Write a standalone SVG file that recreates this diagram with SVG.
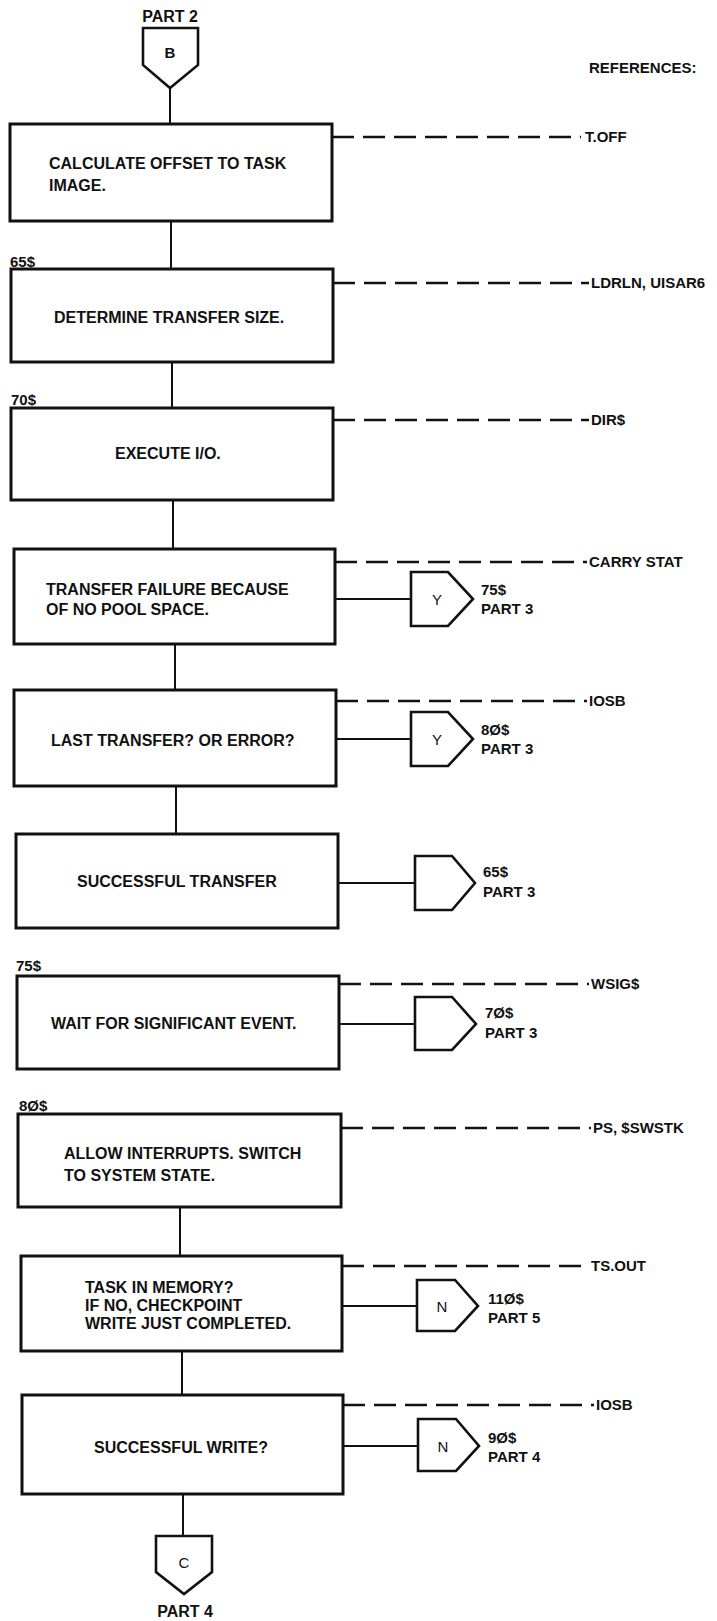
<svg xmlns="http://www.w3.org/2000/svg" width="717" height="1621" viewBox="0 0 717 1621">
<style>
text{font-family:"Liberation Sans",Arial,sans-serif;fill:#111;}
.t{font-size:16px;font-weight:bold;}
.s{font-size:15px;font-weight:bold;}
.l{font-size:15px;}
.box{fill:#fff;stroke:#111;stroke-width:3;}
.off{fill:#fff;stroke:#111;stroke-width:2.6;stroke-linejoin:miter;}
.ln{stroke:#111;stroke-width:2;fill:none;}
.ref{stroke:#111;stroke-width:2.4;fill:none;stroke-dasharray:22 9;}
</style>
<rect width="717" height="1621" fill="#fff"/>
<text class="s" x="589" y="73">REFERENCES:</text>

<g id="connectors">
<line class="ln" x1="170" y1="88" x2="170" y2="124"/>
<line class="ln" x1="171" y1="221" x2="171" y2="269"/>
<line class="ln" x1="172" y1="362" x2="172" y2="408"/>
<line class="ln" x1="173" y1="500" x2="173" y2="549"/>
<line class="ln" x1="175" y1="644" x2="175" y2="690"/>
<line class="ln" x1="176" y1="786" x2="176" y2="834"/>
<line class="ln" x1="180" y1="1207" x2="180" y2="1256"/>
<line class="ln" x1="182" y1="1351" x2="182" y2="1395"/>
<line class="ln" x1="183" y1="1494" x2="183" y2="1536"/>
<line class="ln" x1="335" y1="599" x2="411" y2="599"/>
<line class="ln" x1="336" y1="739" x2="411" y2="739"/>
<line class="ln" x1="338" y1="883" x2="415" y2="883"/>
<line class="ln" x1="339" y1="1024" x2="415" y2="1024"/>
<line class="ln" x1="342" y1="1306" x2="417" y2="1306"/>
<line class="ln" x1="343" y1="1446" x2="418" y2="1446"/>
<line class="ref" x1="332" y1="137" x2="581" y2="137"/>
<line class="ref" x1="333" y1="283" x2="589" y2="283"/>
<line class="ref" x1="333" y1="420" x2="589" y2="420"/>
<line class="ref" x1="335" y1="562" x2="587" y2="562"/>
<line class="ref" x1="336" y1="701" x2="587" y2="701"/>
<line class="ref" x1="339" y1="984" x2="589" y2="984"/>
<line class="ref" x1="341" y1="1128" x2="591" y2="1128"/>
<line class="ref" x1="342" y1="1266" x2="589" y2="1266"/>
<line class="ref" x1="343" y1="1405" x2="594" y2="1405"/>
</g>

<g id="refs">
<text class="s" x="585" y="142">T.OFF</text>
<text class="s" x="591" y="288">LDRLN, UISAR6</text>
<text class="s" x="591" y="425">DIR$</text>
<text class="s" x="589" y="567">CARRY STAT</text>
<text class="s" x="589" y="706">IOSB</text>
<text class="s" x="591" y="989">WSIG$</text>
<text class="s" x="593" y="1133">PS, $SWSTK</text>
<text class="s" x="591" y="1271">TS.OUT</text>
<text class="s" x="596" y="1410">IOSB</text>
</g>

<g id="entryB">
<text class="t" x="170" y="22" text-anchor="middle">PART 2</text>
<path class="off" d="M143,28 H198 V65 L170,88 L143,65 Z"/>
<text class="s" x="170" y="58" text-anchor="middle">B</text>
</g>

<g id="box1">
<rect class="box" x="10" y="124" width="322" height="97"/>
<text class="t" x="49" y="169">CALCULATE OFFSET TO TASK</text>
<text class="t" x="49" y="191">IMAGE.</text>
</g>

<g id="box2">
<text class="s" x="10" y="267">65$</text>
<rect class="box" x="11" y="269" width="322" height="93"/>
<text class="t" x="54" y="323">DETERMINE TRANSFER SIZE.</text>
</g>

<g id="box3">
<text class="s" x="11" y="405">70$</text>
<rect class="box" x="11" y="408" width="322" height="92"/>
<text class="t" x="115" y="459">EXECUTE I/O.</text>
</g>

<g id="box4">
<rect class="box" x="14" y="549" width="321" height="95"/>
<text class="t" x="46" y="595">TRANSFER FAILURE BECAUSE</text>
<text class="t" x="46" y="615">OF NO POOL SPACE.</text>
</g>
<g id="off4">
<path class="off" d="M411,572 H448 L473,599 L448,626 H411 Z"/>
<text class="l" x="437" y="605" text-anchor="middle">Y</text>
<text class="s" x="481" y="595">75$</text>
<text class="s" x="481" y="614">PART 3</text>
</g>

<g id="box5">
<rect class="box" x="14" y="690" width="322" height="96"/>
<text class="t" x="51" y="746">LAST TRANSFER? OR ERROR?</text>
</g>
<g id="off5">
<path class="off" d="M411,712 H448 L473,739 L448,766 H411 Z"/>
<text class="l" x="437" y="745" text-anchor="middle">Y</text>
<text class="s" x="481" y="735">8Ø$</text>
<text class="s" x="481" y="754">PART 3</text>
</g>

<g id="box6">
<rect class="box" x="16" y="834" width="322" height="94"/>
<text class="t" x="77" y="887">SUCCESSFUL TRANSFER</text>
</g>
<g id="off6">
<path class="off" d="M415,856 H452 L475,883 L452,910 H415 Z"/>
<text class="s" x="483" y="877">65$</text>
<text class="s" x="483" y="897">PART 3</text>
</g>

<g id="box7">
<text class="s" x="16" y="971">75$</text>
<rect class="box" x="17" y="976" width="322" height="93"/>
<text class="t" x="51" y="1029">WAIT FOR SIGNIFICANT EVENT.</text>
</g>
<g id="off7">
<path class="off" d="M415,997 H452 L476,1024 L452,1050 H415 Z"/>
<text class="s" x="485" y="1018">7Ø$</text>
<text class="s" x="485" y="1038">PART 3</text>
</g>

<g id="box8">
<text class="s" x="19" y="1111">8Ø$</text>
<rect class="box" x="18" y="1114" width="323" height="93"/>
<text class="t" x="64" y="1159">ALLOW INTERRUPTS. SWITCH</text>
<text class="t" x="64" y="1181">TO SYSTEM STATE.</text>
</g>

<g id="box9">
<rect class="box" x="21" y="1256" width="321" height="95"/>
<text class="t" x="85" y="1293">TASK IN MEMORY?</text>
<text class="t" x="85" y="1311">IF NO, CHECKPOINT</text>
<text class="t" x="85" y="1329">WRITE JUST COMPLETED.</text>
</g>
<g id="off9">
<path class="off" d="M417,1280 H455 L478,1306 L455,1331 H417 Z"/>
<text class="l" x="442" y="1312" text-anchor="middle">N</text>
<text class="s" x="488" y="1304">11Ø$</text>
<text class="s" x="488" y="1323">PART 5</text>
</g>

<g id="box10">
<rect class="box" x="22" y="1395" width="321" height="99"/>
<text class="t" x="94" y="1453">SUCCESSFUL WRITE?</text>
</g>
<g id="off10">
<path class="off" d="M418,1419 H456 L479,1446 L456,1471 H418 Z"/>
<text class="l" x="443" y="1452" text-anchor="middle">N</text>
<text class="s" x="488" y="1443">9Ø$</text>
<text class="s" x="488" y="1462">PART 4</text>
</g>

<g id="exitC">
<path class="off" d="M156,1536 H212 V1572 L184,1594 L156,1572 Z"/>
<text class="l" x="184" y="1568" text-anchor="middle">C</text>
<text class="t" x="185" y="1617" text-anchor="middle">PART 4</text>
</g>
</svg>
